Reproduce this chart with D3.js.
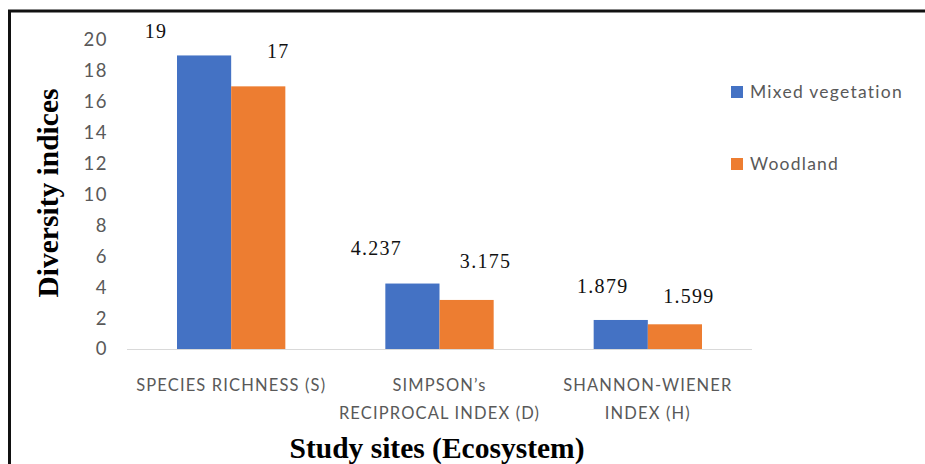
<!DOCTYPE html>
<html>
<head>
<meta charset="utf-8">
<script src="https://cdn.jsdelivr.net/npm/d3@7/dist/d3.min.js"></script>
<style>
  html, body { margin: 0; padding: 0; background: #fff; }
  svg { display: block; }
</style>
</head>
<body>
<svg id="chart" width="925" height="464"></svg>
<script>
// Diversity indices per study site
const categories = [
  ["SPECIES RICHNESS (S)"],
  ["SIMPSON\u2019s", "RECIPROCAL INDEX (D)"],
  ["SHANNON-WIENER", "INDEX (H)"]
];
const seriesNames = ["Mixed vegetation", "Woodland"];
const mixedVegetation = [19, 4.237, 1.879];
const woodland = [17, 3.175, 1.599];
const mixedLabels = ["19", "4.237", "1.879"];
const woodlandLabels = ["17", "3.175", "1.599"];
const yTicks = [0, 2, 4, 6, 8, 10, 12, 14, 16, 18, 20];
const colors = ["#4472C4", "#ED7D31"];

// hand-placed value labels: [dx, dy above bar top] per series per category
const labelNudge = [
  [[-48, 17], [-36, 29], [-18, 27]],
  [[20, 28], [19, 32], [14, 21]]
];

const SANS = "Lato, 'Open Sans', sans-serif";
const SERIF = "'Liberation Serif', 'Times New Roman', serif";

const svg = d3.select("#chart");
const W = 925, H = 464;
const plot = { left: 127, right: 752, top: 40, bottom: 349 };

// frame lines (top and left)
svg.append("line").attr("x1", 8).attr("x2", W).attr("y1", 11).attr("y2", 11)
  .attr("stroke", "#111").attr("stroke-width", 3);
svg.append("line").attr("x1", 9.5).attr("x2", 9.5).attr("y1", 10).attr("y2", H)
  .attr("stroke", "#111").attr("stroke-width", 3);

const x0 = d3.scaleBand()
  .domain(d3.range(categories.length))
  .range([plot.left, plot.right])
  .paddingInner(0.48)
  .paddingOuter(0.24);
const x1 = d3.scaleBand()
  .domain(d3.range(seriesNames.length))
  .range([0, x0.bandwidth()]);
const y = d3.scaleLinear().domain([0, 20]).range([plot.bottom, plot.top]);

const values = [mixedVegetation, woodland];
const labels = [mixedLabels, woodlandLabels];

// y axis tick labels
const yAxis = d3.axisLeft(y).tickValues(yTicks).tickSize(0).tickPadding(0)
  .tickFormat(d3.format("d"));
const yg = svg.append("g").attr("transform", `translate(108,0)`).call(yAxis);
yg.select(".domain").remove();
yg.selectAll("text")
  .attr("font-family", SANS)
  .attr("font-size", 18.5).attr("letter-spacing", 1.5).attr("fill", "#595959");

// bars
values.forEach((vals, s) => {
  svg.append("g").selectAll("rect")
    .data(vals)
    .join("rect")
    .attr("x", (d, i) => x0(i) + x1(s))
    .attr("y", d => y(d))
    .attr("width", x1.bandwidth())
    .attr("height", d => y(0) - y(d))
    .attr("fill", colors[s]);
});

// baseline
const xAxis = d3.axisBottom(x0).tickSize(0).tickFormat(() => "");
const xg = svg.append("g").attr("transform", `translate(0,${plot.bottom})`).call(xAxis);
xg.select(".domain").attr("stroke", "#d9d9d9").attr("stroke-width", 1.2)
  .attr("d", `M${plot.left},0.5H${plot.right}`);

// category labels
categories.forEach((lines, i) => {
  const cx = x0(i) + x0.bandwidth() / 2;
  const t = svg.append("text")
    .attr("x", cx).attr("y", 391)
    .attr("text-anchor", "middle")
    .attr("font-family", SANS)
    .attr("font-size", 16.5).attr("letter-spacing", 1.15).attr("fill", "#595959");
  lines.forEach((ln, k) => {
    t.append("tspan").attr("x", cx).attr("dy", k === 0 ? 0 : 28).text(ln);
  });
});

// value labels
values.forEach((vals, s) => {
  vals.forEach((v, i) => {
    const cx = x0(i) + x1(s) + x1.bandwidth() / 2 + labelNudge[s][i][0];
    svg.append("text")
      .attr("x", cx)
      .attr("y", y(v) - labelNudge[s][i][1])
      .attr("text-anchor", "middle")
      .attr("font-family", SERIF)
      .attr("font-size", 20).attr("letter-spacing", 1.3).attr("fill", "#111")
      .text(labels[s][i]);
  });
});

// axis titles
svg.append("rect").attr("x", 285).attr("y", 433).attr("width", 305).attr("height", 31).attr("fill", "#fff");
svg.append("text")
  .attr("x", 437).attr("y", 458)
  .attr("text-anchor", "middle")
  .attr("font-family", SERIF)
  .attr("font-weight", "bold").attr("font-size", 29.5).attr("fill", "#000")
  .text("Study sites (Ecosystem)");
svg.append("text")
  .attr("transform", "translate(58,193) rotate(-90)")
  .attr("text-anchor", "middle")
  .attr("font-family", SERIF)
  .attr("font-weight", "bold").attr("font-size", 29.5).attr("fill", "#000")
  .text("Diversity indices");

// legend
const legend = svg.append("g");
seriesNames.forEach((name, s) => {
  const ly = 92 + s * 72;
  legend.append("rect").attr("x", 731).attr("y", ly - 6).attr("width", 12).attr("height", 12)
    .attr("fill", colors[s]);
  legend.append("text").attr("x", 750).attr("y", ly + 6)
    .attr("font-family", SANS)
    .attr("font-size", 17.5).attr("letter-spacing", 1.25).attr("fill", "#595959")
    .text(name);
});
</script>
</body>
</html>
